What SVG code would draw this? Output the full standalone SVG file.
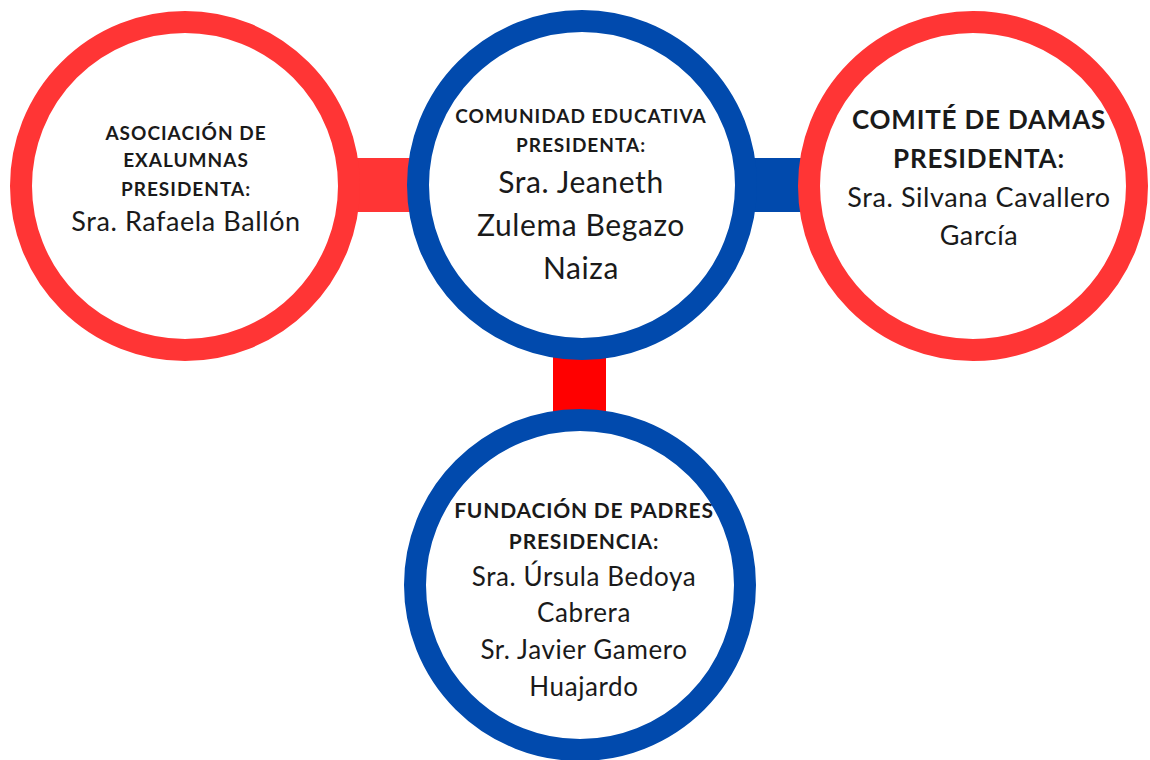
<svg xmlns="http://www.w3.org/2000/svg" width="1150" height="760" viewBox="0 0 1150 760">
<style>
.ring{fill:#ffffff;stroke-width:22}
.red{stroke:#ff3535}
.blue{stroke:#014aad}
text{font-family:Lato,"Open Sans","Liberation Sans",sans-serif;fill:#1a1a1a;text-anchor:middle;letter-spacing:0.6px}
.h{font-weight:bold;letter-spacing:1px}
</style>
<rect width="1150" height="760" fill="#ffffff"/>
<g id="connectors">
<rect x="340" y="158" width="80" height="54" fill="#ff3535"/>
<rect x="740" y="158" width="80" height="54" fill="#014aad"/>
<rect x="553" y="350" width="53" height="68" rx="3" fill="#ff0000"/>
</g>
<g id="asociacion">
<circle class="ring red" cx="185" cy="186" r="164"/>
<text class="h" x="186" y="140" font-size="19">ASOCIACIÓN DE</text>
<text class="h" x="186" y="167" font-size="19">EXALUMNAS</text>
<text class="h" x="186" y="196" font-size="19">PRESIDENTA:</text>
<text x="186" y="231" font-size="27">Sra. Rafaela Ballón</text>
</g>
<g id="comunidad">
<circle class="ring blue" cx="582" cy="185" r="164"/>
<text class="h" x="581" y="123" font-size="19">COMUNIDAD EDUCATIVA</text>
<text class="h" x="581" y="152" font-size="19">PRESIDENTA:</text>
<text x="581" y="193" font-size="30">Sra. Jeaneth</text>
<text x="581" y="236" font-size="30">Zulema Begazo</text>
<text x="581" y="279" font-size="30">Naiza</text>
</g>
<g id="comite">
<circle class="ring red" cx="973" cy="186" r="164"/>
<text class="h" x="979" y="129" font-size="26" style="letter-spacing:0.8px">COMITÉ DE DAMAS</text>
<text class="h" x="979" y="168" font-size="26" style="letter-spacing:0.8px">PRESIDENTA:</text>
<text x="979" y="207" font-size="27">Sra. Silvana Cavallero</text>
<text x="979" y="245" font-size="27">García</text>
</g>
<g id="fundacion">
<circle class="ring blue" cx="580" cy="585" r="165"/>
<text class="h" x="584" y="518" font-size="21" style="letter-spacing:0.8px">FUNDACIÓN DE PADRES</text>
<text class="h" x="584" y="549" font-size="21" style="letter-spacing:0.8px">PRESIDENCIA:</text>
<text x="584" y="586" font-size="26">Sra. Úrsula Bedoya</text>
<text x="584" y="622" font-size="26">Cabrera</text>
<text x="584" y="659" font-size="26">Sr. Javier Gamero</text>
<text x="584" y="696" font-size="26">Huajardo</text>
</g>
</svg>
